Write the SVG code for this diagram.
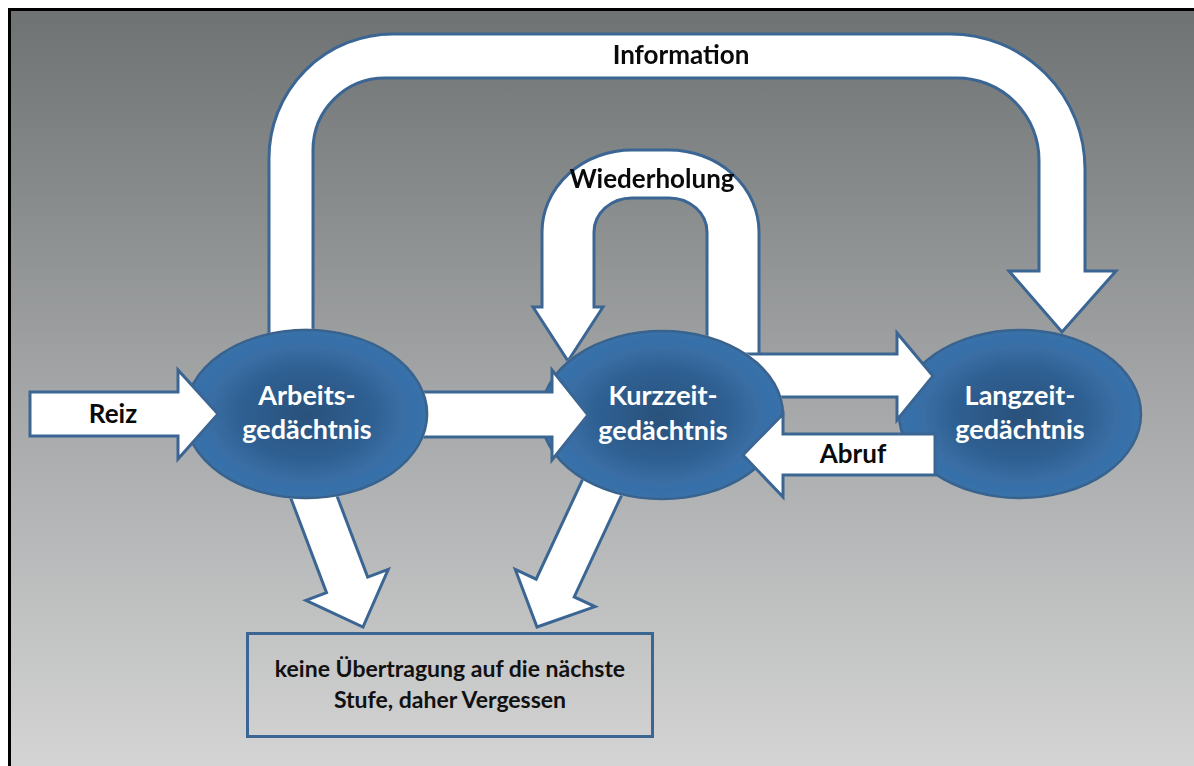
<svg xmlns="http://www.w3.org/2000/svg" width="1194" height="766" viewBox="0 0 1194 766">
  <style>
    .arrow { fill: #ffffff; stroke: #3b6694; stroke-width: 3; stroke-linejoin: miter; }
    .oval { fill: url(#ovalFill); stroke: #38638f; stroke-width: 2.5; }
    .nodeText { font-family: Lato, "Open Sans", sans-serif; font-weight: 700; font-size: 27px; fill: #ffffff; text-anchor: middle; }
    .label { font-family: Lato, "Open Sans", sans-serif; font-weight: 700; font-size: 26px; fill: #0a0a0a; text-anchor: middle; }
    .note { font-family: Lato, "Open Sans", sans-serif; font-weight: 700; font-size: 23px; fill: #111111; text-anchor: middle; }
  </style>
  <defs>
    <linearGradient id="bgFill" x1="0" y1="9" x2="0" y2="766" gradientUnits="userSpaceOnUse">
      <stop offset="0" stop-color="#6e7273"/>
      <stop offset="0.5" stop-color="#a3a5a6"/>
      <stop offset="1" stop-color="#d4d4d4"/>
    </linearGradient>
    <radialGradient id="ovalFill" cx="0.5" cy="0.5" r="0.5">
      <stop offset="0" stop-color="#29517b"/>
      <stop offset="0.55" stop-color="#2f6093"/>
      <stop offset="0.8" stop-color="#3a6ea4"/>
      <stop offset="0.9" stop-color="#3670aa"/>
      <stop offset="1" stop-color="#3a71a8"/>
    </radialGradient>
    <!-- arrows that leave an oval are hidden inside it -->
    <mask id="outsideArbeits" maskUnits="userSpaceOnUse" x="0" y="0" width="1194" height="766">
      <rect x="0" y="0" width="1194" height="766" fill="#fff"/>
      <ellipse cx="306" cy="414" rx="122.5" ry="85.5" fill="#000"/>
    </mask>
    <mask id="outsideKurzzeit" maskUnits="userSpaceOnUse" x="0" y="0" width="1194" height="766">
      <rect x="0" y="0" width="1194" height="766" fill="#fff"/>
      <ellipse cx="662" cy="415" rx="122.5" ry="85.5" fill="#000"/>
    </mask>
  </defs>

  <!-- page and frame -->
  <rect x="0" y="0" width="1194" height="766" fill="#ffffff"/>
  <rect x="9.5" y="9.5" width="1190" height="762" fill="url(#bgFill)" stroke="#000000" stroke-width="3"/>

  <!-- nodes -->
  <g id="node-langzeit">
    <ellipse class="oval" cx="1020" cy="414" rx="121" ry="84"/>
    <text class="nodeText" x="1020" y="405">Langzeit-</text>
    <text class="nodeText" x="1020" y="439">gedächtnis</text>
  </g>
  <g id="node-kurzzeit">
    <ellipse class="oval" cx="662" cy="415" rx="121" ry="84"/>
    <text class="nodeText" x="663" y="405">Kurzzeit-</text>
    <text class="nodeText" x="663" y="440">gedächtnis</text>
  </g>
  <g id="node-arbeits">
    <ellipse class="oval" cx="306" cy="414" rx="121" ry="84"/>
    <text class="nodeText" x="307" y="405">Arbeits-</text>
    <text class="nodeText" x="307" y="439">gedächtnis</text>
  </g>
  <g id="node-vergessen">
    <rect x="247.5" y="633.5" width="405" height="103" fill="none" stroke="#3b6694" stroke-width="3"/>
    <text class="note" x="450" y="677">keine Übertragung auf die nächste</text>
    <text class="note" x="450" y="708">Stufe, daher Vergessen</text>
  </g>

  <!-- connectors -->
  <g id="connectors">
    <!-- Wiederholung: loop back into Kurzzeitgedächtnis -->
    <g id="edge-wiederholung" mask="url(#outsideKurzzeit)">
      <path class="arrow" d="M542 307 L542 232 A90 82 0 0 1 632 150 L669 150 A90 82 0 0 1 759 232 L759 392 L707 392 L707 232 A38 34 0 0 0 669 198 L632 198 A38 34 0 0 0 594 232 L594 307 L603 307 L568 361 L533 307 Z"/>
      <text class="label" x="652" y="188">Wiederholung</text>
    </g>
    <!-- Kurzzeit -> Langzeit -->
    <path id="edge-kurz-lang" class="arrow" mask="url(#outsideKurzzeit)" d="M720 354 L897 354 L897 333 L933 376 L897 420 L897 397 L720 397 Z"/>
    <!-- Information: Arbeits -> Langzeit -->
    <g id="edge-information" mask="url(#outsideArbeits)">
      <path class="arrow" d="M269 360 L269 158 A124 124 0 0 1 393 34 L950 34 A135 135 0 0 1 1085 169 L1085 271 L1116 271 L1062 332 L1009 271 L1039 271 L1039 160 A82 82 0 0 0 957 78 L385 78 A72 72 0 0 0 313 150 L313 360 Z"/>
      <text class="label" x="681" y="64">Information</text>
    </g>
    <!-- Arbeits -> Kurzzeit -->
    <path id="edge-arbeits-kurz" class="arrow" mask="url(#outsideArbeits)" d="M400 392 L552 392 L552 370 L588 415 L552 460 L552 437 L400 437 Z"/>
    <!-- Abruf: Langzeit -> Kurzzeit -->
    <g id="edge-abruf">
      <path class="arrow" d="M935 434 L783 434 L783 414 L743 455 L783 497 L783 475 L935 475 Z"/>
      <text class="label" x="853" y="463">Abruf</text>
    </g>
    <!-- Reiz -> Arbeits -->
    <g id="edge-reiz">
      <path class="arrow" d="M30 392 L178 392 L178 370 L218 414 L178 459 L178 436 L30 436 Z"/>
      <text class="label" x="113" y="423">Reiz</text>
    </g>
    <!-- forgetting paths -->
    <g id="edge-arbeits-vergessen" mask="url(#outsideArbeits)">
      <polygon class="arrow" transform="translate(363 627) rotate(69.3)" points="0,0 -45,-44 -45,-22 -175,-22 -175,22 -45,22 -45,44"/>
    </g>
    <g id="edge-kurz-vergessen" mask="url(#outsideKurzzeit)">
      <polygon class="arrow" transform="translate(537 627) rotate(115)" points="0,0 -43,-44 -43,-21 -175,-21 -175,21 -43,21 -43,44"/>
    </g>
  </g>
</svg>
